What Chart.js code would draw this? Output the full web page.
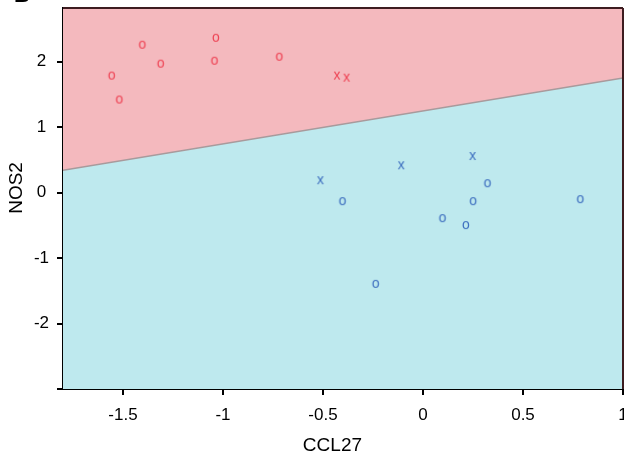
<!DOCTYPE html>
<html><head><meta charset="utf-8">
<script src="https://cdn.jsdelivr.net/npm/chart.js@4/dist/chart.umd.min.js"></script>
<style>html,body{margin:0;padding:0;background:#fff;overflow:hidden}#wrap{width:624px;height:458px;position:relative;overflow:hidden}</style>
</head><body><div id="wrap"><canvas id="c" width="628" height="458"></canvas></div>
<script>
// ---- data ----
const panelLabel = 'B';
const xTitle = 'CCL27';
const yTitle = 'NOS2';
const xTicks = [-1.5, -1, -0.5, 0, 0.5, 1];
const yTicks = [-3, -2, -1, 0, 1, 2];
const xRange = [-1.8, 1];
const yRange = [-3, 2.82];
const boundaryX = [-1.8, 1];
const boundaryY = [0.343, 1.75];
const redCircleX = [-1.556, -1.518, -1.403, -1.311, -1.035, -1.042, -0.718];
const redCircleY = [1.787, 1.422, 2.259, 1.970, 2.365, 2.015, 2.076];
const redCrossX = [-0.430, -0.382];
const redCrossY = [1.787, 1.756];
const blueCrossX = [-0.513, -0.109, 0.248];
const blueCrossY = [0.189, 0.417, 0.559];
const blueCircleX = [-0.402, 0.323, 0.251, 0.787, 0.098, 0.215, -0.236];
const blueCircleY = [-0.131, 0.143, -0.131, -0.100, -0.390, -0.496, -1.394];

// ---- styles ----
const RED = '#EE4455';
const BLUE = '#3E6FBF';
const PINK = '#F4B9BE';
const CYAN = '#BEE9EE';
const FONT = '"Liberation Sans", Arial, Helvetica, sans-serif';

function pts(xs, ys) { return xs.map((x, i) => ({x: x, y: ys[i]})); }
function glyph(ch, color) {
  const c = document.createElement('canvas');
  c.width = 14; c.height = 14;
  const g = c.getContext('2d');
  g.fillStyle = color;
  g.font = '14px ' + FONT;
  g.textAlign = 'center';
  g.textBaseline = 'alphabetic';
  g.fillText(ch, 7, 7 + 3.6);
  return c;
}

const framePlugin = {
  id: 'frame',
  afterDatasetsDraw(chart) {
    const {ctx, chartArea: a} = chart;
    ctx.save();
    ctx.lineWidth = 2;
    ctx.strokeStyle = '#3d1c20';
    ctx.beginPath();
    ctx.moveTo(a.left, a.top); ctx.lineTo(a.right, a.top);
    ctx.moveTo(a.right, a.top); ctx.lineTo(a.right, a.bottom);
    ctx.stroke();
    ctx.restore();
  },
  afterDraw(chart) {
    const ctx = chart.ctx;
    ctx.save();
    ctx.fillStyle = '#000';
    ctx.font = 'bold 22px ' + FONT;
    ctx.textBaseline = 'alphabetic';
    ctx.fillText(panelLabel, 14, 2);
    ctx.restore();
  }
};

const boundary = pts(boundaryX, boundaryY);

new Chart(document.getElementById('c'), {
  type: 'scatter',
  data: {
    datasets: [
      {type: 'line', data: boundary, fill: 'end', backgroundColor: PINK, borderWidth: 0, pointRadius: 0, order: 5},
      {type: 'line', data: boundary, fill: 'start', backgroundColor: CYAN, borderWidth: 0, pointRadius: 0, order: 4},
      {type: 'line', data: boundary, fill: false, borderColor: '#a89a9c', borderWidth: 1.5, pointRadius: 0, order: 3},
      {data: pts(redCircleX, redCircleY), pointStyle: glyph('o', RED), pointRadius: 4, order: 1},
      {data: pts(redCrossX, redCrossY), pointStyle: glyph('x', RED), pointRadius: 4, order: 1},
      {data: pts(blueCrossX, blueCrossY), pointStyle: glyph('x', BLUE), pointRadius: 4, order: 1},
      {data: pts(blueCircleX, blueCircleY), pointStyle: glyph('o', BLUE), pointRadius: 4, order: 1}
    ]
  },
  options: {
    responsive: false,
    devicePixelRatio: 1,
    animation: false,
    layout: {padding: {top: 8, right: 1, left: 0, bottom: 0}},
    plugins: {legend: {display: false}, tooltip: {enabled: false}},
    scales: {
      x: {
        type: 'linear', min: xRange[0], max: xRange[1],
        afterBuildTicks: s => { s.ticks = xTicks.map(v => ({value: v})); },
        afterFit: s => { s.height = 69; s.paddingLeft = 0; s.paddingRight = 0; },
        border: {display: true, color: '#000', width: 2},
        grid: {drawOnChartArea: false, drawTicks: true, tickLength: 6, color: '#000', lineWidth: 2},
        ticks: {color: '#000', font: {family: FONT, size: 17}, padding: 10, maxRotation: 0, autoSkip: false,
                callback: v => String(v)},
        title: {display: true, text: xTitle + '    ', color: '#000', font: {family: FONT, size: 19}, padding: {top: 0, bottom: 1}}
      },
      y: {
        type: 'linear', min: yRange[0], max: yRange[1],
        afterBuildTicks: s => { s.ticks = yTicks.map(v => ({value: v})); },
        afterFit: s => { s.width = 63; s.paddingTop = 0; s.paddingBottom = 0; },
        border: {display: true, color: '#000', width: 2},
        grid: {drawOnChartArea: false, drawTicks: true, tickLength: 6, color: '#000', lineWidth: 2},
        ticks: {color: '#000', font: {family: FONT, size: 17}, padding: 8, crossAlign: 'center', autoSkip: false,
                callback: v => (v === yRange[0] ? '' : String(v))},
        title: {display: true, text: '    ' + yTitle, color: '#000', font: {family: FONT, size: 19}, padding: {top: 5, bottom: 0}}
      }
    }
  },
  plugins: [framePlugin]
});
</script>
</body></html>
